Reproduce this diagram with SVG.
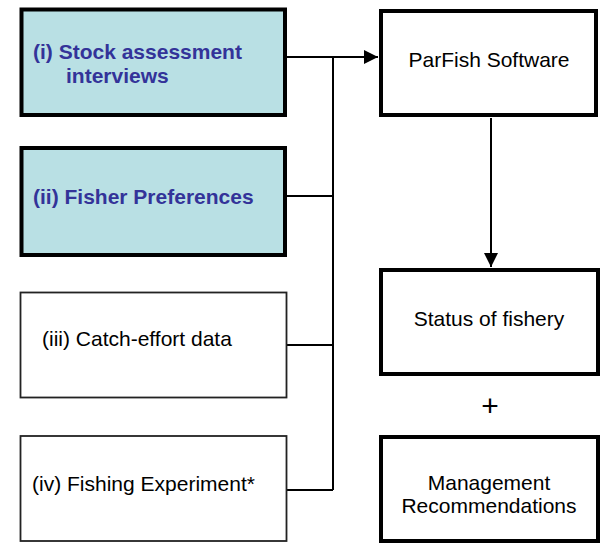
<svg xmlns="http://www.w3.org/2000/svg" width="602" height="544" viewBox="0 0 602 544">
<style>
.hl{fill:#b9e0e4;stroke:#000;stroke-width:4}
.thk{fill:#fff;stroke:#000;stroke-width:4}
.thn{fill:#fff;stroke:#222;stroke-width:1.8}
.bt{font-family:"Liberation Sans",Arial,sans-serif;font-weight:bold;font-size:21px;fill:#333399}
.nt{font-family:"Liberation Sans",Arial,sans-serif;font-size:21px;fill:#000}
.ln{fill:none;stroke:#000;stroke-width:2}
</style>
<defs>
<marker id="ah" markerWidth="14" markerHeight="14" refX="14" refY="7" orient="auto" markerUnits="userSpaceOnUse">
<path d="M0,0 L14,7 L0,14 Z" fill="#000"/>
</marker>
</defs>
<g id="connectors">
<path class="ln" d="M287,57 H378" marker-end="url(#ah)"/>
<path class="ln" d="M333,57 V490"/>
<path class="ln" d="M287,196 H333"/>
<path class="ln" d="M287,345 H333"/>
<path class="ln" d="M287,490 H333"/>
<path class="ln" d="M491,118 V267" marker-end="url(#ah)"/>
</g>
<g id="n1">
<rect class="hl" x="21.5" y="9.5" width="263.5" height="105.5"/>
<text class="bt" x="33" y="59">(i) Stock assessment</text>
<text class="bt" x="66" y="83">interviews</text>
</g>
<g id="n2">
<rect class="hl" x="21.5" y="148" width="263.5" height="107"/>
<text class="bt" x="33" y="204">(ii) Fisher Preferences</text>
</g>
<g id="n3">
<rect class="thn" x="20.5" y="292.5" width="266" height="105"/>
<text class="nt" x="42" y="346">(iii) Catch-effort data</text>
</g>
<g id="n4">
<rect class="thn" x="20.5" y="436" width="266" height="105"/>
<text class="nt" x="32" y="491">(iv) Fishing Experiment*</text>
</g>
<g id="n5">
<rect class="thk" x="381" y="11" width="215" height="104"/>
<text class="nt" x="489" y="67" text-anchor="middle">ParFish Software</text>
</g>
<g id="n6">
<rect class="thk" x="381" y="270" width="217" height="104"/>
<text class="nt" x="489" y="326" text-anchor="middle">Status of fishery</text>
</g>
<text class="nt" x="490" y="416" text-anchor="middle" style="font-size:30px">+</text>
<g id="n7">
<rect class="thk" x="381" y="437" width="217" height="104"/>
<text class="nt" x="489" y="490" text-anchor="middle">Management</text>
<text class="nt" x="489" y="513" text-anchor="middle">Recommendations</text>
</g>
</svg>
